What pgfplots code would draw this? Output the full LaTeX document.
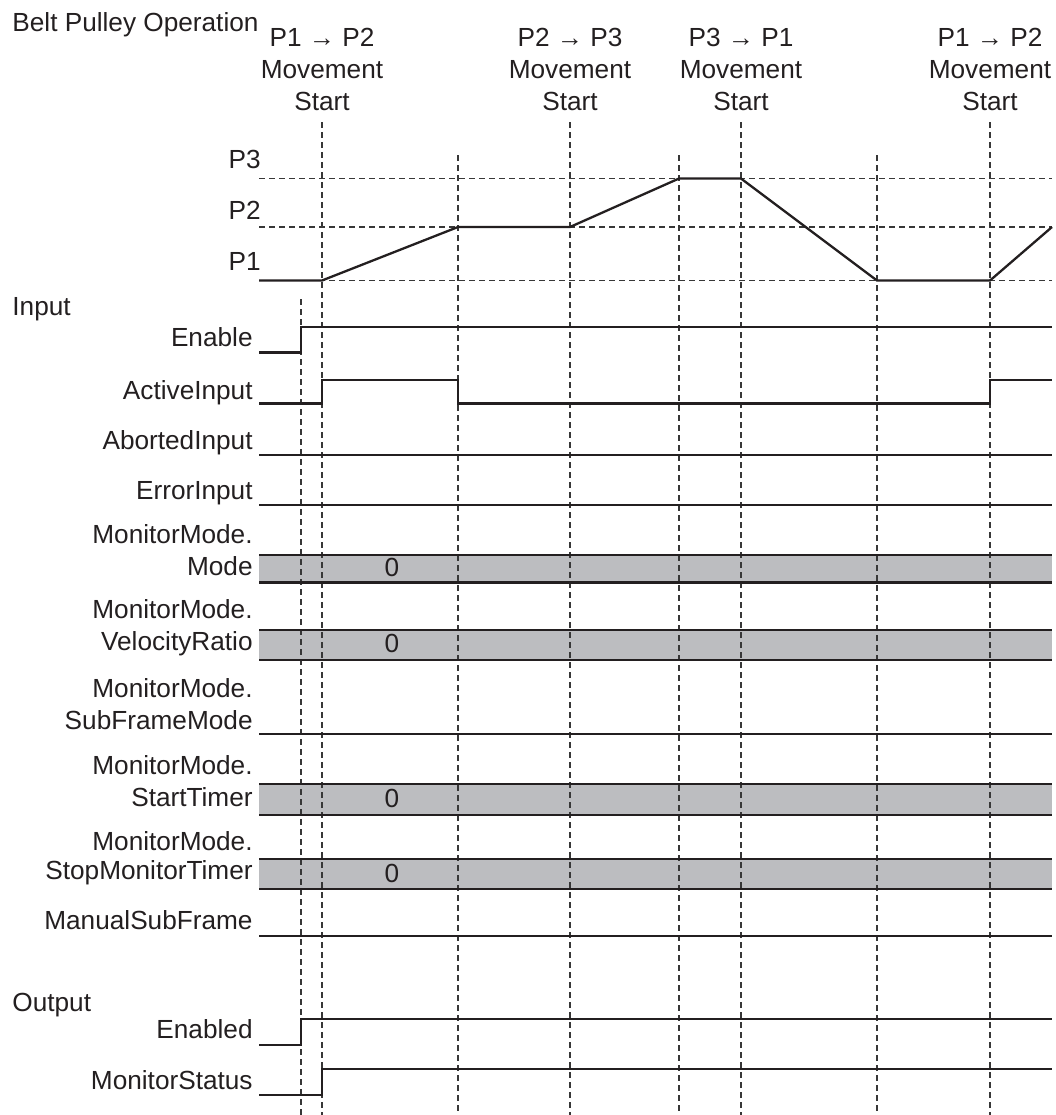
\documentclass[border=0pt]{standalone}
\usepackage{pgfplots}
\pgfplotsset{compat=1.18}
\usepackage{fontspec}
\setmainfont{Liberation Sans}
\definecolor{ink}{RGB}{35,31,32}
\definecolor{band}{RGB}{188,189,192}
\definecolor{dsh}{RGB}{55,55,55}
\newcommand\lbl{\fontsize{13.1}{15.7}\selectfont}
\tikzset{
  sig/.style={ink, line width=1.15pt, line join=miter},
  dl/.style={dsh, line width=0.55pt, dash pattern=on 3pt off 2pt},
  lab/.style={font=\lbl, text=ink, inner sep=0pt},
}
\begin{document}
\begin{tikzpicture}
\begin{axis}[
  scale only axis, width=528pt, height=557.5pt,
  xmin=0, xmax=1056, ymin=0, ymax=1115, y dir=reverse,
  hide axis, clip=false,
]
% bands
\addplot[fill=band, draw=none] coordinates {(259,554.7)(1052,554.7)(1052,582.6)(259,582.6)};
\addplot[fill=band, draw=none] coordinates {(259,629.7)(1052,629.7)(1052,659.7)(259,659.7)};
\addplot[fill=band, draw=none] coordinates {(259,784)(1052,784)(1052,815)(259,815)};
\addplot[fill=band, draw=none] coordinates {(259,859)(1052,859)(1052,889)(259,889)};
% horizontal dashed reference lines
\addplot[dl] coordinates {(259,178.5)(1052,178.5)};
\addplot[dl] coordinates {(259,227)(1052,227)};
\addplot[dl] coordinates {(259,280.5)(1052,280.5)};
% vertical dashed event lines
\addplot[dl] coordinates {(301,299)(301,1115)};
\addplot[dl] coordinates {(322,122)(322,1115)};
\addplot[dl] coordinates {(458,155)(458,1115)};
\addplot[dl] coordinates {(570,122)(570,1115)};
\addplot[dl] coordinates {(679,155)(679,1115)};
\addplot[dl] coordinates {(741,122)(741,1115)};
\addplot[dl] coordinates {(877,155)(877,1115)};
\addplot[dl] coordinates {(990,122)(990,1115)};
% position profile
\addplot[sig] coordinates {(259,280.5)(322,280.5)(458,227)(570,227)(679,178.5)(741,178.5)(877,280.5)(990,280.5)(1052,227)};
% inputs
\addplot[sig] coordinates {(259,352.4)(301,352.4)(301,327)(1052,327)};
\addplot[sig] coordinates {(259,403.6)(322,403.6)(322,379.7)(458,379.7)(458,403.6)(990,403.6)(990,379.7)(1052,379.7)};
\addplot[sig] coordinates {(259,454.7)(1052,454.7)};
\addplot[sig] coordinates {(259,505)(1052,505)};
\addplot[sig] coordinates {(259,554.7)(1052,554.7)};
\addplot[sig] coordinates {(259,582.6)(1052,582.6)};
\addplot[sig] coordinates {(259,629.7)(1052,629.7)};
\addplot[sig] coordinates {(259,659.7)(1052,659.7)};
\addplot[sig] coordinates {(259,734)(1052,734)};
\addplot[sig] coordinates {(259,784)(1052,784)};
\addplot[sig] coordinates {(259,815)(1052,815)};
\addplot[sig] coordinates {(259,859)(1052,859)};
\addplot[sig] coordinates {(259,889)(1052,889)};
\addplot[sig] coordinates {(259,936)(1052,936)};
% outputs
\addplot[sig] coordinates {(259,1044.7)(301,1044.7)(301,1019)(1052,1019)};
\addplot[sig] coordinates {(259,1095)(322,1095)(322,1069)(1052,1069)};
% band values
\node[lab] at (axis cs:392,567.5) {0};
\node[lab] at (axis cs:392,643.5) {0};
\node[lab] at (axis cs:392,798.5) {0};
\node[lab] at (axis cs:392,873) {0};
% titles
\node[lab, anchor=base west] at (axis cs:12,31) {Belt Pulley Operation};
\node[lab, anchor=base west] at (axis cs:12,315.4) {Input};
\node[lab, anchor=base west] at (axis cs:12,1011.7) {Output};
% position labels
\node[lab, anchor=base east] at (axis cs:261,168.4) {P3};
\node[lab, anchor=base east] at (axis cs:261,219.2) {P2};
\node[lab, anchor=base east] at (axis cs:261,270.4) {P1};
% event labels
\node[lab, anchor=base] at (axis cs:322,46) {P1 → P2};
\node[lab, anchor=base] at (axis cs:322,78) {Movement};
\node[lab, anchor=base] at (axis cs:322,110) {Start};
\node[lab, anchor=base] at (axis cs:570,46) {P2 → P3};
\node[lab, anchor=base] at (axis cs:570,78) {Movement};
\node[lab, anchor=base] at (axis cs:570,110) {Start};
\node[lab, anchor=base] at (axis cs:741,46) {P3 → P1};
\node[lab, anchor=base] at (axis cs:741,78) {Movement};
\node[lab, anchor=base] at (axis cs:741,110) {Start};
\node[lab, anchor=base] at (axis cs:990,46) {P1 → P2};
\node[lab, anchor=base] at (axis cs:990,78) {Movement};
\node[lab, anchor=base] at (axis cs:990,110) {Start};
% signal labels
\node[lab, anchor=base east] at (axis cs:253,346.5) {Enable};
\node[lab, anchor=base east] at (axis cs:253,399.5) {ActiveInput};
\node[lab, anchor=base east] at (axis cs:253,449.4) {AbortedInput};
\node[lab, anchor=base east] at (axis cs:253,499.5) {ErrorInput};
\node[lab, anchor=base east] at (axis cs:253,543.3) {MonitorMode.};
\node[lab, anchor=base east] at (axis cs:253,575) {Mode};
\node[lab, anchor=base east] at (axis cs:253,618) {MonitorMode.};
\node[lab, anchor=base east] at (axis cs:253,650.2) {VelocityRatio};
\node[lab, anchor=base east] at (axis cs:253,697.4) {MonitorMode.};
\node[lab, anchor=base east] at (axis cs:253,729.4) {SubFrameMode};
\node[lab, anchor=base east] at (axis cs:253,774.5) {MonitorMode.};
\node[lab, anchor=base east] at (axis cs:253,806.8) {StartTimer};
\node[lab, anchor=base east] at (axis cs:253,850) {MonitorMode.};
\node[lab, anchor=base east] at (axis cs:253,879.7) {StopMonitorTimer};
\node[lab, anchor=base east] at (axis cs:253,929.2) {ManualSubFrame};
\node[lab, anchor=base east] at (axis cs:253,1038.6) {Enabled};
\node[lab, anchor=base east] at (axis cs:253,1089) {MonitorStatus};
\end{axis}
\pgfresetboundingbox
\path[use as bounding box] (0,0) rectangle (528pt,557.5pt);
\end{tikzpicture}
\end{document}
